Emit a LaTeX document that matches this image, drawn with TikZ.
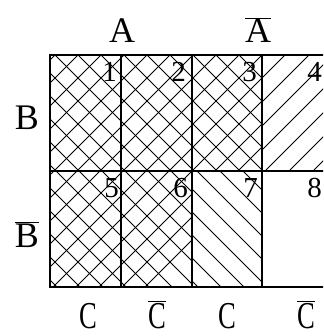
\documentclass[tikz,border=0pt]{standalone}
\usepackage{fontspec}
\usepackage{graphicx}
\setmainfont{Liberation Serif}
\newcommand{\ovl}[1]{$\overline{\hbox{#1}}$}
\begin{document}
\begin{tikzpicture}[x=1pt,y=-1pt,
  hatch/.style={line width=0.75pt},
  gridline/.style={line width=2.8pt},
  lab/.style={font=\fontsize{36}{36}\selectfont, inner sep=0pt, anchor=base},
  clab/.style={font=\fontsize{38}{38}\selectfont, inner sep=0pt, anchor=base},
  num/.style={font=\fontsize{29}{29}\selectfont, inner sep=0pt, anchor=base east}]
\useasboundingbox (0,0) rectangle (323,336);
\clip (0,0) rectangle (323,336);
% cross-hatched cells 1,2,3,5,6
\begin{scope}
  \clip (50,55) rectangle (262,171) (50,171) rectangle (192,287);
  \foreach \k in {-12,...,14} {
    \draw[hatch] (23*\k,0) -- ++(340,340);
    \draw[hatch] (110+23*\k,0) -- ++(-340,340);
  }
\end{scope}
% cell 4: / lines
\begin{scope}
  \clip (262,55) rectangle (335,171);
  \foreach \k in {-2,...,8} \draw[hatch] (285+24*\k,55) -- ++(-130,130);
\end{scope}
% cell 7: \ lines
\begin{scope}
  \clip (192,171) rectangle (262,287);
  \foreach \k in {-6,...,3} \draw[hatch] (197+23*\k,171) -- ++(130,130);
\end{scope}
% grid
\draw[gridline] (50,55) rectangle (334,287);
\draw[gridline] (50,171) -- (334,171);
\foreach \xx in {121,192,262} \draw[gridline] (\xx,55) -- (\xx,287);
% labels
\node[lab] (A)  at (122,43) {A};
\node[lab] (nA) at (258,43) {\ovl{A}};
\node[lab] (B)  at (27,130) {B};
\node[lab] (nB) at (27,247) {\ovl{B}};
\node[clab] (C1) at (88,328) {\scalebox{0.7}[1]{C}};
\node[clab] (C2) at (157,328) {\ovl{\scalebox{0.7}[1]{C}}};
\node[clab] (C3) at (227,328) {\scalebox{0.7}[1]{C}};
\node[clab] (C4) at (306,328) {\ovl{\scalebox{0.7}[1]{C}}};
% cell numbers
\node[num] (n1) at (117,82) {1};
\node[num] (n2) at (186,82) {2};
\node[num] (n3) at (257,82) {3};
\node[num] (n4) at (322,82) {4};
\node[num] (n5) at (119,197) {5};
\node[num] (n6) at (188,197) {6};
\node[num] (n7) at (258,197) {7};
\node[num] (n8) at (322,197) {8};
\end{tikzpicture}
\end{document}
